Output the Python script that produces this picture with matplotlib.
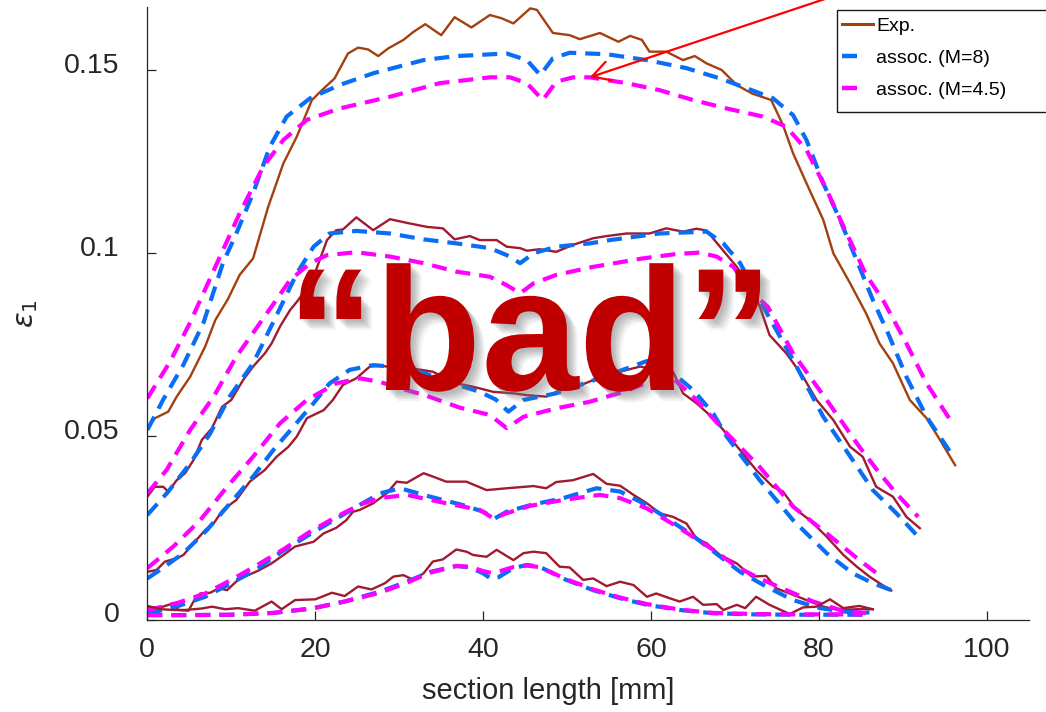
import matplotlib
matplotlib.use("Agg")
import matplotlib.pyplot as plt
from matplotlib.lines import Line2D
from matplotlib.patches import Rectangle
import matplotlib.patheffects as pe
import matplotlib.transforms as mtransforms

plt.rcParams['font.family'] = ['Liberation Sans', 'DejaVu Sans']
plt.rcParams['lines.scale_dashes'] = False

# ---------------- data ----------------
g1_exp_x = [0, 0.9, 2.5, 3.5, 5.1, 6.9, 8.1, 9.6, 11.0, 12.6, 14.4, 16.2, 17.8, 19.6, 20.8, 22.3, 23.9, 25.1,
            26.3, 27.5, 28.7, 30.5, 31.7, 33.1, 35.0, 36.6, 38.6, 40.8, 42.2, 43.6, 45.6, 46.4, 48.3, 50.3,
            51.5, 53.9, 56.1, 57.5, 58.9, 59.8, 61.8, 63.8, 65.2, 66.6, 68.4, 70.2, 72.0, 74.3, 75.7, 76.9,
            78.5, 80.5, 81.7, 83.7, 85.6, 87.2, 88.8, 90.8, 92.8, 94.4, 96.2]
g1_exp_y = [0.0520, 0.0549, 0.0567, 0.0608, 0.0662, 0.0745, 0.0817, 0.0874, 0.0940, 0.0985, 0.1126, 0.1244,
            0.1317, 0.1417, 0.1444, 0.1476, 0.1544, 0.1560, 0.1555, 0.1537, 0.1558, 0.1581, 0.1603, 0.1624,
            0.1594, 0.1643, 0.1615, 0.1649, 0.1640, 0.1626, 0.1667, 0.1663, 0.1600, 0.1594, 0.1583, 0.1600,
            0.1576, 0.1592, 0.1581, 0.1549, 0.1549, 0.1526, 0.1537, 0.1517, 0.1499, 0.1458, 0.1435, 0.1417,
            0.1349, 0.1272, 0.1190, 0.1090, 0.0999, 0.0917, 0.0835, 0.0753, 0.0699, 0.0599, 0.0549, 0.0490,
            0.0421]
g1_m8_x = [0, 1.9, 4.3, 6.7, 9.0, 10.6, 12.6, 14.6, 16.6, 19.4, 22.9, 26.9, 32.9, 36.8, 42.8, 45.2, 46.8,
           48.3, 50.3, 54.7, 59.5, 64.2, 68.2, 71.4, 74.5, 76.9, 78.5, 80.5, 82.5, 84.8, 86.4, 88.4, 90.4,
           92.8, 96.0]
g1_m8_y = [0.0517, 0.0600, 0.0695, 0.0810, 0.0972, 0.1053, 0.1163, 0.1290, 0.1372, 0.1422, 0.1458, 0.1490,
           0.1526, 0.1537, 0.1544, 0.1526, 0.1485, 0.1531, 0.1546, 0.1542, 0.1526, 0.1504, 0.1476, 0.1449,
           0.1422, 0.1376, 0.1308, 0.1190, 0.1090, 0.0962, 0.0872, 0.0771, 0.0662, 0.0553, 0.0444]
g1_m45_x = [0, 2.7, 5.1, 8.3, 11.0, 13.8, 16.2, 19.0, 22.9, 28.9, 34.8, 40.8, 43.2, 45.2, 47.1, 48.7, 50.7,
            52.7, 57.1, 61.0, 65.0, 69.0, 73.3, 76.1, 78.5, 80.9, 83.3, 85.6, 87.6, 90.4, 92.8, 96.0]
g1_m45_y = [0.0603, 0.0703, 0.0810, 0.0972, 0.1108, 0.1235, 0.1308, 0.1363, 0.1394, 0.1426, 0.1463, 0.1479,
            0.1479, 0.1463, 0.1417, 0.1467, 0.1479, 0.1479, 0.1463, 0.1444, 0.1417, 0.1394, 0.1372, 0.1344,
            0.1281, 0.1172, 0.1053, 0.0940, 0.0872, 0.0753, 0.0644, 0.0531]

g2_exp_x = [0, 0.9, 1.9, 2.5, 3.5, 4.5, 5.5, 6.5, 7.7, 8.9, 10.0, 11.4, 12.6, 14.0, 14.8, 15.8, 17.0, 18.0,
            19.8, 21.4, 22.5, 23.3, 24.9, 26.9, 28.9, 30.9, 33.3, 35.2, 36.6, 38.4, 39.6, 41.6, 42.8, 44.4,
            45.2, 46.7, 48.7, 50.7, 53.1, 54.7, 57.1, 59.8, 61.8, 63.8, 65.4, 66.6, 68.2, 70.2, 72.1, 73.0,
            74.1, 76.1, 78.1, 79.7, 81.7, 83.7, 85.2, 86.8, 88.8, 90.4, 92.0]
g2_exp_y = [0.0335, 0.0362, 0.0362, 0.0349, 0.0380, 0.0399, 0.0435, 0.0490, 0.0522, 0.0580, 0.0599, 0.0653,
            0.0690, 0.0726, 0.0753, 0.0799, 0.0844, 0.0872, 0.0935, 0.1035, 0.1062, 0.1064, 0.1097, 0.1062,
            0.1092, 0.1082, 0.1071, 0.1067, 0.1037, 0.1046, 0.1035, 0.1035, 0.1017, 0.1013, 0.1006, 0.1010,
            0.1003, 0.1022, 0.1040, 0.1046, 0.1053, 0.1053, 0.1067, 0.1058, 0.1066, 0.1061, 0.1017, 0.0962,
            0.0899, 0.0850, 0.0776, 0.0726, 0.0662, 0.0599, 0.0544, 0.0471, 0.0444, 0.0362, 0.0335, 0.0280,
            0.0249]
g2_m8_x = [0, 2.5, 5.1, 7.5, 9.8, 12.6, 15.4, 17.8, 19.8, 21.7, 24.9, 28.9, 32.9, 36.8, 40.8, 42.8, 44.4,
           46.0, 48.7, 52.7, 55.1, 61.0, 66.6, 68.6, 70.6, 72.5, 73.8, 76.9, 80.5, 84.0, 86.4, 89.2, 91.8]
g2_m8_y = [0.0285, 0.0349, 0.0426, 0.0508, 0.0608, 0.0699, 0.0830, 0.0944, 0.1017, 0.1053, 0.1060, 0.1053,
           0.1037, 0.1026, 0.1013, 0.0994, 0.0972, 0.0999, 0.1017, 0.1026, 0.1035, 0.1053, 0.1058, 0.1026,
           0.0972, 0.0890, 0.0835, 0.0708, 0.0553, 0.0435, 0.0353, 0.0290, 0.0226]
g2_m45_x = [0, 2.3, 5.1, 7.9, 10.6, 13.4, 15.0, 17.0, 19.4, 21.4, 24.9, 28.9, 32.9, 36.8, 40.8, 42.8, 44.4,
            46.0, 48.7, 53.1, 59.0, 63.0, 65.8, 67.8, 69.8, 71.7, 73.9, 76.9, 80.9, 84.8, 87.2, 89.2, 91.8]
g2_m45_y = [0.0344, 0.0408, 0.0517, 0.0608, 0.0717, 0.0808, 0.0860, 0.0926, 0.0972, 0.0994, 0.1002, 0.0990,
            0.0972, 0.0949, 0.0935, 0.0912, 0.0890, 0.0917, 0.0940, 0.0962, 0.0985, 0.0997, 0.1001, 0.0990,
            0.0962, 0.0899, 0.0853, 0.0726, 0.0599, 0.0471, 0.0399, 0.0344, 0.0280]

g3_exp_x = [0, 1.1, 2.1, 3.5, 4.3, 5.5, 6.9, 7.9, 9.0, 10.6, 12.2, 14.0, 15.4, 16.8, 17.8, 19.0, 19.8, 21.0,
            22.1, 23.3, 24.9, 26.5, 27.7, 29.5, 31.5, 34.0, 36.8, 38.8, 41.2, 43.6, 45.2, 47.5, 49.1, 50.7,
            53.1, 56.3, 58.7, 60.6, 62.6, 63.8, 65.4, 67.2, 68.6, 70.6, 72.5, 74.5, 75.7, 77.3, 78.9, 80.9,
            82.9, 84.5, 86.0, 87.2, 88.6]
g3_exp_y = [0.0130, 0.0135, 0.0158, 0.0167, 0.0176, 0.0208, 0.0244, 0.0262, 0.0299, 0.0326, 0.0376, 0.0408,
            0.0444, 0.0471, 0.0499, 0.0549, 0.0558, 0.0571, 0.0599, 0.0640, 0.0658, 0.0690, 0.0692, 0.0688,
            0.0685, 0.0676, 0.0644, 0.0635, 0.0621, 0.0617, 0.0612, 0.0608, 0.0625, 0.0631, 0.0653, 0.0676,
            0.0690, 0.0681, 0.0676, 0.0617, 0.0590, 0.0553, 0.0517, 0.0462, 0.0408, 0.0362, 0.0349, 0.0299,
            0.0271, 0.0226, 0.0176, 0.0144, 0.0117, 0.0099, 0.0079]
g3_m8_x = [0, 1.5, 4.3, 7.1, 10.2, 12.6, 15.0, 17.4, 19.8, 21.7, 24.1, 26.9, 30.0, 33.0, 36.4, 39.6, 41.5,
           43.0, 44.8, 48.7, 52.7, 56.5, 59.5, 62.6, 65.0, 67.4, 69.0, 72.9, 76.9, 80.9, 84.0, 86.4, 88.6]
g3_m8_y = [0.0112, 0.0135, 0.0181, 0.0244, 0.0326, 0.0390, 0.0462, 0.0526, 0.0590, 0.0644, 0.0681, 0.0694,
           0.0688, 0.0672, 0.0644, 0.0621, 0.0600, 0.0567, 0.0599, 0.0617, 0.0649, 0.0680, 0.0705, 0.0672,
           0.0626, 0.0562, 0.0499, 0.0381, 0.0271, 0.0181, 0.0126, 0.0099, 0.0080]
g3_m45_x = [0, 3.1, 6.3, 9.5, 12.6, 15.8, 19.0, 22.5, 25.3, 27.7, 29.5, 33.3, 37.2, 40.8, 42.8, 44.8, 48.7,
            52.7, 56.7, 60.0, 62.6, 65.0, 69.0, 72.9, 76.9, 80.9, 84.8, 87.4]
g3_m45_y = [0.0140, 0.0199, 0.0271, 0.0362, 0.0444, 0.0535, 0.0599, 0.0644, 0.0658, 0.0648, 0.0635, 0.0610,
            0.0578, 0.0558, 0.0522, 0.0553, 0.0576, 0.0594, 0.0621, 0.0650, 0.0658, 0.0608, 0.0508, 0.0417,
            0.0308, 0.0235, 0.0162, 0.0117]

g4_exp_x = [0, 1.3, 3.1, 3.7, 4.9, 5.5, 6.3, 7.5, 8.5, 9.5, 10.8, 12.0, 13.2, 14.8, 16.4, 17.6, 19.8, 21.0,
            22.5, 23.7, 24.5, 25.3, 26.9, 28.5, 29.7, 30.9, 32.9, 34.0, 35.6, 38.0, 40.4, 42.8, 46.0, 47.5,
            48.7, 50.7, 53.1, 54.7, 56.3, 57.9, 59.5, 61.0, 62.6, 64.2, 65.4, 66.6, 68.2, 70.2, 72.0, 73.7,
            74.9, 76.5, 78.5, 80.5, 82.5, 84.5, 86.4]
g4_exp_y = [0.0035, 0.0031, 0.0044, 0.0026, 0.0024, 0.0049, 0.0071, 0.0073, 0.0085, 0.0080, 0.0108, 0.0121,
            0.0133, 0.0153, 0.0179, 0.0199, 0.0212, 0.0235, 0.0250, 0.0271, 0.0294, 0.0299, 0.0317, 0.0344,
            0.0376, 0.0373, 0.0399, 0.0390, 0.0376, 0.0376, 0.0353, 0.0358, 0.0364, 0.0358, 0.0375, 0.0380,
            0.0397, 0.0370, 0.0365, 0.0340, 0.0317, 0.0290, 0.0280, 0.0262, 0.0221, 0.0208, 0.0176, 0.0153,
            0.0117, 0.0119, 0.0085, 0.0071, 0.0053, 0.0035, 0.0026, 0.0028, 0.0028]
g4_m8_x = [0, 3.7, 6.9, 10.0, 13.2, 16.0, 19.2, 22.5, 25.5, 27.7, 30.1, 33.7, 37.6, 40.0, 41.4, 42.8, 45.6,
           49.5, 53.5, 56.3, 59.5, 63.4, 64.6, 68.2, 70.6, 73.7, 76.9, 80.1, 83.3, 86.0]
g4_m8_y = [0.0015, 0.0037, 0.0062, 0.0099, 0.0140, 0.0185, 0.0230, 0.0275, 0.0315, 0.0344, 0.0358, 0.0335,
           0.0312, 0.0294, 0.0276, 0.0294, 0.0312, 0.0331, 0.0358, 0.0349, 0.0312, 0.0253, 0.0235, 0.0172,
           0.0130, 0.0090, 0.0053, 0.0031, 0.0021, 0.0019]
g4_m45_x = [0, 3.7, 6.9, 10.0, 13.2, 16.4, 19.2, 22.5, 25.5, 27.7, 30.9, 35.6, 39.6, 41.2, 42.8, 45.6, 49.5,
            53.9, 56.3, 59.5, 63.4, 67.4, 70.2, 72.9, 76.1, 79.3, 82.5, 85.6]
g4_m45_y = [0.0025, 0.0046, 0.0071, 0.0108, 0.0150, 0.0194, 0.0237, 0.0280, 0.0315, 0.0331, 0.0340, 0.0317,
            0.0299, 0.0276, 0.0290, 0.0310, 0.0326, 0.0340, 0.0331, 0.0303, 0.0249, 0.0190, 0.0144, 0.0112,
            0.0080, 0.0049, 0.0026, 0.0017]

g5_exp_x = [0, 1.7, 3.1, 4.5, 6.5, 7.7, 9.3, 10.8, 12.8, 14.8, 16.0, 17.6, 20.0, 22.0, 23.5, 25.1, 26.7,
            28.3, 29.3, 30.5, 31.7, 32.9, 34.0, 35.2, 36.8, 38.0, 38.8, 40.4, 41.6, 43.6, 44.8, 46.0, 47.5,
            49.1, 50.3, 51.9, 53.1, 54.7, 56.3, 57.9, 59.5, 60.6, 62.2, 63.4, 65.0, 66.2, 67.8, 68.6, 70.2,
            71.2, 72.5, 74.1, 76.5, 78.1, 79.7, 81.3, 82.9, 84.8, 86.4]
g5_exp_y = [0.0037, 0.0028, 0.0026, 0.0026, 0.0030, 0.0035, 0.0028, 0.0031, 0.0024, 0.0049, 0.0028, 0.0053,
            0.0055, 0.0073, 0.0064, 0.0090, 0.0082, 0.0099, 0.0117, 0.0121, 0.0108, 0.0126, 0.0158, 0.0164,
            0.0191, 0.0185, 0.0176, 0.0171, 0.0190, 0.0162, 0.0181, 0.0185, 0.0181, 0.0144, 0.0142, 0.0108,
            0.0112, 0.0091, 0.0103, 0.0094, 0.0062, 0.0071, 0.0058, 0.0049, 0.0062, 0.0040, 0.0042, 0.0026,
            0.0040, 0.0031, 0.0062, 0.0040, 0.0015, 0.0033, 0.0035, 0.0055, 0.0031, 0.0037, 0.0028]
g5_m8_x = [0, 5, 10, 15, 19.6, 23.5, 27.7, 30.9, 33.7, 36.8, 38.4, 40.0, 41.0, 41.8, 43.6, 45.2, 46.7, 49.9,
           53.1, 56.3, 59.5, 63.4, 67.4, 72.0, 77.0, 81.3, 85.2]
g5_m8_y = [0.0012, 0.0012, 0.0013, 0.0018, 0.0030, 0.0049, 0.0076, 0.0103, 0.0130, 0.0146, 0.0142, 0.0126,
           0.0110, 0.0115, 0.0140, 0.0149, 0.0144, 0.0108, 0.0080, 0.0058, 0.0040, 0.0026, 0.0017, 0.0014,
           0.0013, 0.0013, 0.0013]
g5_m45_x = [0, 5, 10, 15, 19.6, 23.5, 27.7, 30.9, 33.7, 36.8, 38.4, 40.0, 41.0, 42.0, 43.6, 45.2, 46.7, 49.9,
            53.1, 56.3, 59.5, 63.4, 67.4, 72.0, 77.0, 81.3, 85.2]
g5_m45_y = [0.0012, 0.0012, 0.0013, 0.0018, 0.0030, 0.0049, 0.0073, 0.0100, 0.0128, 0.0146, 0.0144, 0.0132,
            0.0127, 0.0132, 0.0143, 0.0147, 0.0143, 0.0110, 0.0082, 0.0060, 0.0042, 0.0027, 0.0018, 0.0015,
            0.0014, 0.0014, 0.0014]

x_ticks = [0, 20, 40, 60, 80, 100]
x_tick_labels = ['0', '20', '40', '60', '80', '100']
y_ticks = [0, 0.05, 0.1, 0.15]
y_tick_labels = ['0', '0.05', '0.1', '0.15']
legend_labels = ['Exp.', 'assoc. (M=8)', 'assoc. (M=4.5)']
x_label = 'section length [mm]'
y_label = r'$\epsilon_1$'
overlay_text = '\u201cbad\u201d'

# ---------------- styling ----------------
C_EXP_TOP = '#A2400F'
C_EXP = '#A01A30'
C_BLUE = '#0A6EF5'
C_MAG = '#FF00FF'
DASH = (10.8, 6.5)
LW_EXP = 1.7
LW_DASH = 3.0
AX_COL = '#262626'

W, H = 1046, 712
fig = plt.figure(figsize=(W / 100, H / 100), dpi=100)
ax = fig.add_axes([147.3 / W, 1 - 619.5 / H, (1029 - 147.3) / W, (619.5 - 7.3) / H])

groups = [
    (g1_exp_x, g1_exp_y, g1_m8_x, g1_m8_y, g1_m45_x, g1_m45_y, C_EXP_TOP),
    (g2_exp_x, g2_exp_y, g2_m8_x, g2_m8_y, g2_m45_x, g2_m45_y, C_EXP),
    (g3_exp_x, g3_exp_y, g3_m8_x, g3_m8_y, g3_m45_x, g3_m45_y, C_EXP),
    (g4_exp_x, g4_exp_y, g4_m8_x, g4_m8_y, g4_m45_x, g4_m45_y, C_EXP),
    (g5_exp_x, g5_exp_y, g5_m8_x, g5_m8_y, g5_m45_x, g5_m45_y, C_EXP),
]
for ex, ey, bx, by, mx, my, ec in groups:
    ax.plot(ex, ey, color=ec, lw=LW_EXP, solid_joinstyle='round')
    ax.plot(bx, by, color=C_BLUE, lw=LW_DASH, dashes=DASH)
    ax.plot(mx, my, color=C_MAG, lw=LW_DASH, dashes=DASH)

ax.set_xlim(0, 105)
ax.set_ylim(0, 0.167)
ax.set_xticks(x_ticks)
ax.set_xticklabels(x_tick_labels)
ax.set_yticks(y_ticks)
ax.set_yticklabels(y_tick_labels)
ax.tick_params(axis='both', direction='in', length=6.5, width=0.9, colors=AX_COL, labelsize=20.5)
ax.tick_params(axis='x', pad=12.5)
ax.tick_params(axis='y', pad=20)
for s in ['top', 'right']:
    ax.spines[s].set_visible(False)
for s in ['left', 'bottom']:
    ax.spines[s].set_color(AX_COL)
    ax.spines[s].set_linewidth(0.9)

# y tick labels sit a little above their ticks in the reference
shift_up = mtransforms.ScaledTranslation(0, 7 / 100, fig.dpi_scale_trans)
for lab in ax.get_yticklabels():
    lab.set_transform(lab.get_transform() + shift_up)

ax.set_xlabel(x_label, fontsize=21, color=AX_COL)
ax.xaxis.set_label_coords(0.4545, -0.094)
ax.set_ylabel(y_label, fontsize=21, color=AX_COL)
ax.yaxis.set_label_coords(-0.122, 0.5)

# red arrow
ax.annotate('', xy=(52.7, 0.1479), xytext=(81.4, 0.1698), textcoords='data',
            annotation_clip=False,
            arrowprops=dict(arrowstyle='->,head_length=0.63,head_width=0.35', color='#FF0000',
                            lw=1.6, shrinkA=0, shrinkB=0, mutation_scale=20))

# legend frame + legend
fig.patches.append(Rectangle((837 / W, 1 - 112 / H), (1070 - 837) / W, 102 / H,
                             transform=fig.transFigure, facecolor='white', edgecolor='#1a1a1a',
                             lw=1.0, zorder=4))
handles = [Line2D([0], [0], color=C_EXP_TOP, lw=2.2),
           Line2D([0], [0], color=C_BLUE, lw=3.2, dashes=(10.8, 30)),
           Line2D([0], [0], color=C_MAG, lw=3.2, dashes=(10.8, 30))]
fig.legend(handles, legend_labels, loc='upper left', bbox_to_anchor=(842 / W, 1 - 17 / H),
           bbox_transform=fig.transFigure, frameon=False, borderpad=0, borderaxespad=0,
           handlelength=1.6, handletextpad=0.15, labelspacing=0.74, fontsize=14)

# big overlay text with soft shadow
shadow = [pe.SimplePatchShadow(offset=(o, -o), shadow_rgbFace='#777777', alpha=a)
          for o, a in [(2.0, 0.15), (3.5, 0.15), (5.0, 0.15), (6.5, 0.12), (8.0, 0.08)]]
fig.text(530 / W, 1 - 390 / H, overlay_text, ha='center', va='baseline', fontsize=126,
         fontweight='bold', color='#C00000', family=['Liberation Sans', 'DejaVu Sans'],
         path_effects=shadow + [pe.Normal()], zorder=6)

fig.savefig('out.png', dpi=100)
